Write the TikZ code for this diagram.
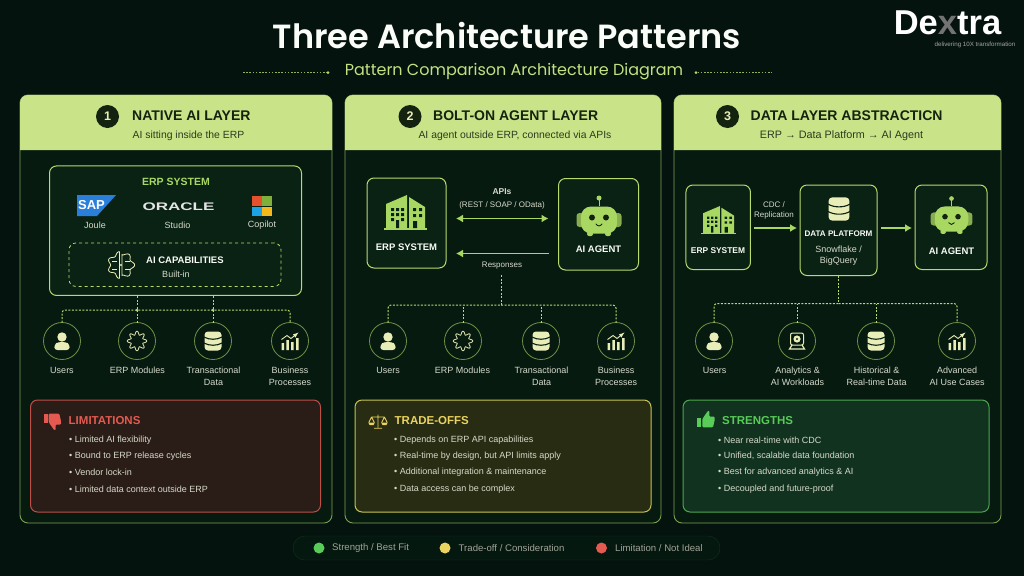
\documentclass[tikz,border=0pt]{standalone}
\usepackage{fontspec}
\usepackage{xcolor}
\usetikzlibrary{arrows.meta}
\setmainfont{Liberation Sans}
\newfontfamily\titlefont[BoldFont={Poppins SemiBold}]{Poppins}

\definecolor{pagebg}{HTML}{04130D}
\definecolor{panelbg}{HTML}{061A10}
\definecolor{panelline}{HTML}{7FA14F}
\definecolor{ringline}{HTML}{6F9145}
\definecolor{headfill}{HTML}{C9E488}
\definecolor{headtext}{HTML}{13230F}
\definecolor{headsub}{HTML}{2B3A20}
\definecolor{lime}{HTML}{B9DA6C}
\definecolor{botgreen}{HTML}{A9D862}
\definecolor{cream}{HTML}{E9EDB8}
\definecolor{boxbg}{HTML}{0A2214}
\definecolor{lbltext}{HTML}{D6DACB}
\definecolor{redline}{HTML}{BC4F48}
\definecolor{redfill}{HTML}{2A1C16}
\definecolor{redtext}{HTML}{E45A50}
\definecolor{yelline}{HTML}{C9C252}
\definecolor{yelfill}{HTML}{282C12}
\definecolor{yeltext}{HTML}{EBD361}
\definecolor{grnline}{HTML}{4DA650}
\definecolor{grnfill}{HTML}{11321F}
\definecolor{grntext}{HTML}{58CB58}
\definecolor{sapblue}{HTML}{2A7FDB}
\definecolor{msred}{HTML}{E5502F}
\definecolor{msgreen}{HTML}{7FB03A}
\definecolor{msblue}{HTML}{1CA3E6}
\definecolor{msyellow}{HTML}{F5BA1A}

\tikzset{
  panelbox/.style = {draw=panelline, fill=panelbg, line width=0.9pt, rounded corners=8pt,
                     inner sep=0pt, outer sep=0pt},
  limebox/.style  = {draw=lime, fill=boxbg, line width=1pt, rounded corners=7pt,
                     inner sep=0pt, outer sep=0pt},
  alertbox/.style = {line width=1pt, rounded corners=7pt, inner sep=0pt, outer sep=0pt},
  ringdot/.style  = {circle, draw=ringline, fill=panelbg, line width=0.8pt, minimum size=37pt,
                     inner sep=0pt, outer sep=0pt},
  numdot/.style   = {circle, fill=headtext, text=cream, minimum size=23pt, inner sep=0pt,
                     font=\fontsize{12.5}{14}\selectfont\bfseries},
  pip/.style      = {circle, fill=#1, minimum size=3pt, inner sep=0pt, outer sep=0pt},
  pip/.default    = lime,
  headline/.style = {text=headtext, inner sep=0pt, font=\fontsize{14}{16}\selectfont\bfseries},
  headnote/.style = {text=headsub, inner sep=0pt, font=\fontsize{10.4}{12}\selectfont},
  lbl/.style      = {text=lbltext, inner sep=0pt, align=center, font=\fontsize{9}{12}\selectfont},
  tinylbl/.style  = {text=lbltext, inner sep=0pt, align=center, font=\fontsize{8}{10}\selectfont},
  logolbl/.style  = {text=lbltext, inner sep=0pt, font=\fontsize{9}{11}\selectfont},
  caps/.style     = {text=white!92!lime, inner sep=0pt, font=\fontsize{9.5}{11}\selectfont\bfseries},
  alerthead/.style = {anchor=west, inner sep=0pt, font=\fontsize{11.5}{13}\selectfont\bfseries},
  bull/.style     = {anchor=west, text=lbltext, inner sep=0pt, font=\fontsize{9}{11}\selectfont},
  keytext/.style  = {anchor=west, text=lbltext!75!black, inner sep=0pt, font=\fontsize{9.6}{11}\selectfont},
  busline/.style  = {draw=lime, line width=1pt, dash pattern=on 2pt off 1.5pt, rounded corners=3pt},
  flow/.style     = {draw=botgreen, line width=1.3pt},
  bigtip/.tip     = {Latex[length=7pt, width=8pt]},
  % Icons
  buildingicon/.pic = {
    \fill[botgreen] (-20,-9) -- (1,-18) -- (1,16) -- (-20,16) -- cycle;
    \fill[botgreen] (3,-16) -- (19,-6) -- (19,16) -- (3,16) -- cycle;
    \fill[botgreen] (-22,15) rectangle (21,17);
    \fill[boxbg] (-15,-5) rectangle (-12,-2) (-10,-5) rectangle (-7,-2) (-5,-5) rectangle (-2,-2)
                 (-15,0) rectangle (-12,3) (-10,0) rectangle (-7,3) (-5,0) rectangle (-2,3)
                 (-15,5) rectangle (-12,8) (-5,5) rectangle (-2,8)
                 (-10,7) rectangle (-7,15)
                 (7,-5) rectangle (10,-2) (13,-5) rectangle (16,-2)
                 (7,1) rectangle (10,4) (13,1) rectangle (16,4)
                 (7,8) rectangle (11,15);
  },
  boticon/.pic = {
    \fill[botgreen!80!black, rounded corners=3pt] (-22.5,-7) rectangle (22.5,7);
    \draw[botgreen, line width=1pt] (0,-14) -- (0,-21);
    \fill[botgreen] (0,-22) circle (2.5);
    \fill[botgreen, rounded corners=2pt] (-12,12) rectangle (-6,16);
    \fill[botgreen, rounded corners=2pt] (6,12) rectangle (12,16);
    \fill[botgreen, rounded corners=10pt] (-18,-13.5) rectangle (18,13.5);
    \fill[headtext] (-7,-2.5) circle (3);
    \fill[headtext] (7,-2.5) circle (3);
    \draw[headtext, line width=0.9pt, line cap=round] (-3,4) .. controls (-1.5,6.5) and (1.5,6.5) .. (3,4);
  },
  dbicon/.pic = {
    \fill[cream, rounded corners=3.5pt] (-8.5,-9.5) rectangle (8.5,9.5);
    \draw[boxbg, line width=1.1pt] (-9,-4) .. controls (-4,-1) and (4,-1) .. (9,-4);
    \draw[boxbg, line width=1.1pt] (-9,2) .. controls (-4,5) and (4,5) .. (9,2);
  },
  usericon/.pic = {
    \fill[cream] (0,-4) circle (4.7);
    \fill[cream, rounded corners=3pt] (-7.7,9) -- (-7.7,3.5) -- (-4,1) -- (4,1) -- (7.7,3.5) -- (7.7,9) -- cycle;
  },
  gearicon/.pic = {
    \draw[cream, line width=0.8pt] plot[domain=0:360, samples=97]
      ({(8+1.8*cos(8*\x))*cos(\x)},{(8+1.8*cos(8*\x))*sin(\x)}) -- cycle;
  },
  charticon/.pic = {
    \fill[cream] (-8.3,2) rectangle (-5.8,9) (-3.6,-1) rectangle (-1.1,9)
                 (1,1) rectangle (3.5,9) (6,-3) rectangle (8.5,9);
    \draw[cream, line width=0.9pt, -latex] (-8.5,-1.5) -- (-3,-5.5) -- (1,-2.5) -- (8.5,-8.5);
  },
  analyticsicon/.pic = {
    \draw[cream, line width=1pt, rounded corners=2pt] (-6.5,-8) rectangle (6.5,4);
    \fill[cream] (0,-2) circle (3.6);
    \fill[boxbg] (0,-2) circle (1.2);
    \draw[cream, line width=1.2pt] (-5,4) -- (-7.5,8) -- (7.5,8) -- (5,4);
  },
  brainicon/.pic = {
    \draw[cream, line width=0.8pt] plot[domain=100:260, samples=70]
      ({1+(13+1.6*cos(7*\x))*cos(\x)},{(12+1.6*cos(7*\x))*sin(\x)}) -- cycle;
    \draw[cream, line width=0.8pt] plot[domain=-80:80, samples=70]
      ({-1+(13+1.6*cos(7*\x))*cos(\x)},{(12+1.6*cos(7*\x))*sin(\x)}) -- cycle;
    \draw[cream, line width=0.6pt] (-9,-4) -- (-4,-4) (-9,4) -- (-4,4) (4,-4) -- (9,-4) (4,4) -- (9,4);
    \fill[cream] (0,0) circle (1.2);
  },
  thumbicon/.pic = {
    \fill[pic actions] (-8.7,-1.7) rectangle (-4.7,7.3);
    \fill[pic actions, rounded corners=1pt] (-3.7,-1) -- (2,-9.3) -- (3.5,-9) -- (3.2,-3.5) -- (8.7,-3.5)
      -- (8.7,0) -- (7,7.3) -- (-3.7,7.3) -- cycle;
  },
  scaleicon/.pic = {
    \draw[yeltext, line width=0.9pt] (0,-8) -- (0,8) (-5,9) -- (5,9) (-8,-5) -- (8,-5)
      (-8,-5) -- (-11.5,2) (-8,-5) -- (-4.5,2) (8,-5) -- (11.5,2) (8,-5) -- (4.5,2);
    \fill[yeltext] (-12,2) -- (-4,2) -- (-5.5,5) -- (-10.5,5) -- cycle;
    \fill[yeltext] (12,2) -- (4,2) -- (5.5,5) -- (10.5,5) -- cycle;
  }
}

\begin{document}
\begin{tikzpicture}[x=1pt,y=-1pt]
	\useasboundingbox (0,0) rectangle (1024,576);
	\def \rowc{341}  % centre of the ring row
	\def \rowa{370}  % first label line
	\def \rowb{367}  % top of two line labels

	\fill[pagebg] (0,0) rectangle (1024,576);

	% Title
	\node[text=white!95!lime, inner sep=0pt, font=\fontsize{33.5}{38}\selectfont\titlefont\bfseries] (title) at (507,36) {Three Architecture Patterns};
	\node[text=lime!85!white, inner sep=0pt, font=\fontsize{16}{18}\selectfont\titlefont] (subtitle) at (514,71.5) {Pattern Comparison Architecture Diagram};
	\node[pip] (subl) at (328,72.7) {};
	\node[pip] (subr) at (696,72.7) {};
	\coordinate (sublend) at (243,72.7);
	\coordinate (subrend) at (772,72.7);
	\draw[lime!80!black, line width=0.8pt, dash pattern=on 1.6pt off 1.6pt] (sublend) -- (subl);
	\draw[lime!80!black, line width=0.8pt, dash pattern=on 1.6pt off 1.6pt] (subr) -- (subrend);

	% Logo
	\node[text=white, inner sep=0pt, font=\fontsize{34.5}{36}\selectfont\bfseries] (logo) at (947.5,23) {De\textcolor{white!45!black}{x}tra};
	\node[text=white!65!black, inner sep=0pt, font=\fontsize{6.2}{7}\selectfont] (slogan) at (975,45) {delivering 10X transformation};

	% Panels
	\node[panelbox, minimum width=312pt, minimum height=428pt] (panela) at (176,309) {};
	\node[panelbox, minimum width=316pt, minimum height=428pt] (panelb) at (503,309) {};
	\node[panelbox, minimum width=327pt, minimum height=428pt] (panelc) at (837.5,309) {};

	% Headers
	\fill[headfill] (20,150) [rounded corners=8pt] -- (20,95) -- (332,95) [sharp corners] -- (332,150) -- cycle;
	\fill[headfill] (345,150) [rounded corners=8pt] -- (345,95) -- (661,95) [sharp corners] -- (661,150) -- cycle;
	\fill[headfill] (674,150) [rounded corners=8pt] -- (674,95) -- (1001,95) [sharp corners] -- (1001,150) -- cycle;

	\node[numdot] (numa) at (107.5,116.5) {1};
	\node[numdot] (numb) at (410,116.5) {2};
	\node[numdot] (numc) at (727.5,116.5) {3};
	\node[headline, anchor=west] (heada) at (132,116) {NATIVE AI LAYER};
	\node[headline, anchor=west] (headb) at (433,116) {BOLT-ON AGENT LAYER};
	\node[headline, anchor=west] (headc) at (750.5,116) {DATA LAYER ABSTRACTICN};
	\node[headnote] (notea) at (188.5,136) {AI sitting inside the ERP};
	\node[headnote] (noteb) at (515,136) {AI agent outside ERP, connected via APIs};
	\node[headnote, font=\fontsize{10.8}{12}\selectfont] (notec) at (841.5,136) {ERP → Data Platform → AI Agent};

	% Pattern 1, ERP box
	\node[limebox, minimum width=252pt, minimum height=129.5pt] (erpa) at (175.5,230.7) {};
	\node[text=botgreen, inner sep=0pt, font=\fontsize{10.5}{12}\selectfont\bfseries] (erpatitle) at (176,182) {ERP SYSTEM};
	\fill[sapblue] (77,195) -- (116,195) -- (97,216) -- (77,216) -- cycle;
	\node[text=white, inner sep=0pt, font=\fontsize{13}{14}\selectfont\bfseries] (saplogo) at (91.5,205.5) {SAP};
	\node[text=white!90!black, inner sep=0pt, xscale=1.55, transform shape, font=\fontsize{11}{13}\selectfont\bfseries] (oraclelogo) at (178.5,207) {ORACLE};
	\fill[msred] (252,196) rectangle (261.6,206);
	\fill[msgreen] (262.4,196) rectangle (272,206);
	\fill[msblue] (252,206.8) rectangle (261.6,216);
	\fill[msyellow] (262.4,206.8) rectangle (272,216);
	\node[logolbl] (joule) at (95,225.5) {Joule};
	\node[logolbl] (studio) at (177.5,225.5) {Studio};
	\node[logolbl] (copilot) at (262,225.5) {Copilot};
	\node[limebox, dashed, fill=none, line width=0.8pt, minimum width=212pt, minimum height=43.5pt] (capa) at (175,264.7) {};
	\pic at (121,265) {brainicon};
	\node[caps, anchor=west] (captitle) at (146,260) {AI CAPABILITIES};
	\node[logolbl] (capnote) at (176,274) {Built-in};

	% Pattern 1, rings
	\coordinate (busa) at (176,310);
	\node[ringdot] (ringaa) at (62,\rowc) {};
	\node[ringdot] (ringab) at (137,\rowc) {};
	\node[ringdot] (ringac) at (213,\rowc) {};
	\node[ringdot] (ringad) at (290,\rowc) {};
	\pic at (ringaa) {usericon};
	\pic at (ringab) {gearicon};
	\pic at (ringac) {dbicon};
	\pic at (ringad) {charticon};
	\draw[busline] (ringaa.north) |- (busa);
	\draw[busline] (busa) -| (ringad.north);
	\draw[busline] (ringab.north) -- (ringab.north |- erpa.south);
	\draw[busline] (ringac.north) -- (ringac.north |- erpa.south);
	\node[pip] (busab) at (ringab |- busa) {};
	\node[pip] (busac) at (ringac |- busa) {};
	\node[lbl] (lblaa) at (62,\rowa) {Users};
	\node[lbl] (lblab) at (137.5,\rowa) {ERP Modules};
	\node[lbl, anchor=north] (lblac) at (213.5,\rowb) {Transactional\\Data};
	\node[lbl, anchor=north] (lblad) at (290,\rowb) {Business\\Processes};

	% Pattern 1, limitations
	\node[alertbox, draw=redline, fill=redfill, minimum width=290pt, minimum height=112pt] (alerta) at (175.5,456) {};
	\pic[yscale=-1, fill=redtext] at (52.3,421) {thumbicon};
	\node[alerthead, text=redtext] (alertahead) at (68.5,420.5) {LIMITATIONS};
	\node[bull] (bullaa) at (69,440) {• Limited AI flexibility};
	\node[bull] (bullab) at (69,456) {• Bound to ERP release cycles};
	\node[bull] (bullac) at (69,472.5) {• Vendor lock-in};
	\node[bull] (bullad) at (69,489) {• Limited data context outside ERP};

	% Pattern 2, boxes
	\node[limebox, minimum width=79pt, minimum height=90pt] (erpb) at (406.5,223) {};
	\node[limebox, minimum width=80pt, minimum height=91.5pt] (agentb) at (598.5,224.25) {};
	\pic at (406,213) {buildingicon};
	\pic at (599,220) {boticon};
	\node[caps] (erpblbl) at (406.5,247.5) {ERP SYSTEM};
	\node[caps] (agentblbl) at (598.5,249.5) {AI AGENT};
	\draw[flow, {bigtip}-{bigtip}] ([xshift=10,yshift=4.5]erpb.east) -- ([xshift=-10,yshift=5.75]agentb.west);
	\draw[flow, {bigtip}-] ([xshift=10,yshift=-30.5]erpb.east) -- ([xshift=-10,yshift=-29.25]agentb.west);
	\node[tinylbl, font=\fontsize{8.5}{10}\selectfont\bfseries] (apis) at (502,192) {APIs};
	\node[tinylbl] (apilist) at (502,205.5) {(REST / SOAP / OData)};
	\node[tinylbl] (resp) at (502,265.5) {Responses};

	% Pattern 2, rings
	\coordinate (busb) at (501,305);
	\node[ringdot] (ringba) at (388,\rowc) {};
	\node[ringdot] (ringbb) at (463,\rowc) {};
	\node[ringdot] (ringbc) at (541,\rowc) {};
	\node[ringdot] (ringbd) at (616,\rowc) {};
	\pic at (ringba) {usericon};
	\pic at (ringbb) {gearicon};
	\pic at (ringbc) {dbicon};
	\pic at (ringbd) {charticon};
	\draw[busline] ([xshift=-1,yshift=-6]resp.south) -- (busb);
	\draw[busline] (ringba.north) |- (busb);
	\draw[busline] (busb) -| (ringbd.north);
	\draw[busline] (ringbb.north) -- (ringbb.north |- busb);
	\draw[busline] (ringbc.north) -- (ringbc.north |- busb);
	\node[lbl] (lblba) at (388,\rowa) {Users};
	\node[lbl] (lblbb) at (462.5,\rowa) {ERP Modules};
	\node[lbl, anchor=north] (lblbc) at (541.5,\rowb) {Transactional\\Data};
	\node[lbl, anchor=north] (lblbd) at (616,\rowb) {Business\\Processes};

	% Pattern 2, trade-offs
	\node[alertbox, draw=yelline, fill=yelfill, minimum width=296pt, minimum height=112pt] (alertb) at (503,456) {};
	\pic[scale=0.8] at (378,421) {scaleicon};
	\node[alerthead, text=yeltext] (alertbhead) at (394.5,420.5) {TRADE-OFFS};
	\node[bull] (bullba) at (394,440) {• Depends on ERP API capabilities};
	\node[bull] (bullbb) at (394,456) {• Real-time by design, but API limits apply};
	\node[bull] (bullbc) at (394,472.5) {• Additional integration \& maintenance};
	\node[bull] (bullbd) at (394,489) {• Data access can be complex};

	% Pattern 3, boxes
	\node[limebox, minimum width=64.5pt, minimum height=84.5pt] (erpc) at (718.2,227.25) {};
	\node[limebox, minimum width=77pt, minimum height=90.5pt] (dataplat) at (838.5,230.25) {};
	\node[limebox, minimum width=72pt, minimum height=84.5pt] (agentc) at (951,227.25) {};
	\pic[scale=0.8] at (719,220.5) {buildingicon};
	\pic[scale=1.22] at (839,209) {dbicon};
	\pic[scale=0.93] at (951.5,219) {boticon};
	\node[caps, font=\fontsize{8.4}{10}\selectfont\bfseries] (erpclbl) at (718,251) {ERP SYSTEM};
	\node[caps, font=\fontsize{8.1}{10}\selectfont\bfseries] (dataplatlbl) at (838.5,234) {DATA PLATFORM};
	\node[tinylbl, font=\fontsize{9}{11.5}\selectfont, anchor=north] (dataplatnote) at (838.5,245.5) {Snowflake /\\BigQuery};
	\node[caps] (agentclbl) at (951.5,251) {AI AGENT};
	\draw[flow, -{bigtip}] ([xshift=4,yshift=-0.75]erpc.east) -- ([xshift=-3,yshift=2.25]dataplat.west);
	\draw[flow, -{bigtip}] ([xshift=4,yshift=2.25]dataplat.east) -- ([xshift=-3,yshift=-0.75]agentc.west);
	\node[tinylbl, font=\fontsize{8}{9.6}\selectfont, anchor=north] (cdc) at (774,201.5) {CDC /\\Replication};

	% Pattern 3, rings
	\coordinate (busc) at (838.5,303.5);
	\node[ringdot] (ringca) at (714,\rowc) {};
	\node[ringdot] (ringcb) at (797,\rowc) {};
	\node[ringdot] (ringcc) at (876,\rowc) {};
	\node[ringdot] (ringcd) at (957,\rowc) {};
	\pic at (ringca) {usericon};
	\pic at (ringcb) {analyticsicon};
	\pic at (ringcc) {dbicon};
	\pic at (ringcd) {charticon};
	\draw[busline] (dataplat.south) -- (busc);
	\draw[busline] (ringca.north) |- (busc);
	\draw[busline] (busc) -| (ringcd.north);
	\draw[busline] (ringcb.north) -- (ringcb.north |- busc);
	\draw[busline] (ringcc.north) -- (ringcc.north |- busc);
	\node[lbl] (lblca) at (714.5,\rowa) {Users};
	\node[lbl, anchor=north] (lblcb) at (797.5,\rowb) {Analytics \&\\AI Workloads};
	\node[lbl, anchor=north] (lblcc) at (876.5,\rowb) {Historical \&\\Real-time Data};
	\node[lbl, anchor=north] (lblcd) at (957,\rowb) {Advanced\\AI Use Cases};

	% Pattern 3, strengths
	\node[alertbox, draw=grnline, fill=grnfill, minimum width=306pt, minimum height=112pt] (alertc) at (836,456) {};
	\pic[fill=grntext] at (706,420) {thumbicon};
	\node[alerthead, text=grntext] (alertchead) at (722,420.5) {STRENGTHS};
	\node[bull] (bullca) at (718,440) {• Near real-time with CDC};
	\node[bull] (bullcb) at (718,456) {• Unified, scalable data foundation};
	\node[bull] (bullcc) at (718,472.5) {• Best for advanced analytics \& AI};
	\node[bull] (bullcd) at (718,489) {• Decoupled and future-proof};

	% Legend
	\node[draw=grnfill, fill=panelbg!70!pagebg, rounded corners=12pt, minimum width=427pt, minimum height=24pt, inner sep=0pt] (legend) at (506.5,548) {};
	\node[pip=grntext, minimum size=11pt] (keya) at (319,548) {};
	\node[pip=yeltext, minimum size=11pt] (keyb) at (445,548) {};
	\node[pip=redtext, minimum size=11pt] (keyc) at (601.5,548) {};
	\node[keytext] (keyatext) at (332,548) {Strength / Best Fit};
	\node[keytext] (keybtext) at (458.5,548) {Trade-off / Consideration};
	\node[keytext] (keyctext) at (615,548) {Limitation / Not Ideal};
\end{tikzpicture}
\end{document}
